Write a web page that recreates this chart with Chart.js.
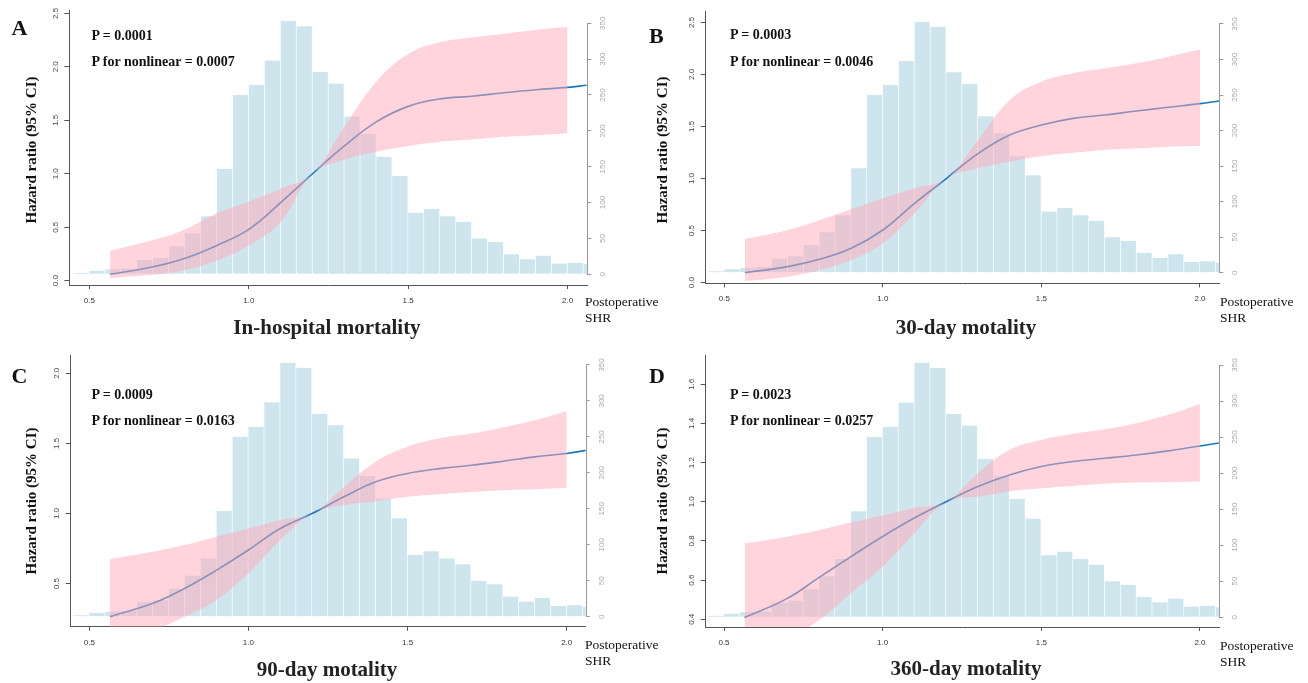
<!DOCTYPE html>
<html>
<head>
<meta charset="utf-8">
<title>Postoperative SHR and mortality</title>
<script src="https://cdn.jsdelivr.net/npm/chart.js@4.4.1/dist/chart.umd.min.js"></script>
<style>
  html, body { margin: 0; padding: 0; background: #fff; }
  body { position: relative; width: 1308px; height: 683px; overflow: hidden; }
  canvas { position: absolute; }
  .txt { position: absolute; white-space: nowrap; line-height: 1; font-family: "Liberation Serif", "Times New Roman", serif; color: #111; }
  .letter { font-size: 22px; font-weight: bold; transform: translateY(-50%); }
  .pval { font-size: 14px; font-weight: bold; transform: translateY(-50%); }
  .ytitle { font-size: 15px; font-weight: bold; transform: translate(-50%, -50%) rotate(-90deg); }
  .title { font-size: 21px; font-weight: bold; color: #222; transform: translate(-50%, -50%); }
  .xname { font-size: 13.5px; transform: translateY(-50%); }
</style>
</head>
<body>
<canvas id="chartA" width="654" height="341" style="left:0px;top:0px"></canvas>
<canvas id="chartB" width="654" height="341" style="left:654px;top:0px"></canvas>
<canvas id="chartC" width="654" height="342" style="left:0px;top:341px"></canvas>
<canvas id="chartD" width="654" height="342" style="left:654px;top:341px"></canvas>

<div class="txt letter" style="left:11.5px;top:27.5px">A</div>
<div class="txt letter" style="left:649px;top:35.5px">B</div>
<div class="txt letter" style="left:11.5px;top:375.5px">C</div>
<div class="txt letter" style="left:649px;top:375.5px">D</div>

<div class="txt pval" style="left:91.5px;top:36px">P = 0.0001</div>
<div class="txt pval" style="left:91.5px;top:62px">P for nonlinear = 0.0007</div>
<div class="txt pval" style="left:730px;top:35px">P = 0.0003</div>
<div class="txt pval" style="left:730px;top:62px">P for nonlinear = 0.0046</div>
<div class="txt pval" style="left:91.5px;top:395px">P = 0.0009</div>
<div class="txt pval" style="left:91.5px;top:421px">P for nonlinear = 0.0163</div>
<div class="txt pval" style="left:730px;top:395px">P = 0.0023</div>
<div class="txt pval" style="left:730px;top:421px">P for nonlinear = 0.0257</div>

<div class="txt ytitle" style="left:31px;top:150px">Hazard ratio (95% CI)</div>
<div class="txt ytitle" style="left:662px;top:150px">Hazard ratio (95% CI)</div>
<div class="txt ytitle" style="left:31px;top:501px">Hazard ratio (95% CI)</div>
<div class="txt ytitle" style="left:662px;top:501px">Hazard ratio (95% CI)</div>

<div class="txt title" style="left:327px;top:327px">In-hospital mortality</div>
<div class="txt title" style="left:966px;top:327px">30-day motality</div>
<div class="txt title" style="left:327px;top:669px">90-day motality</div>
<div class="txt title" style="left:966px;top:668px">360-day motality</div>

<div class="txt xname" style="left:585px;top:302px">Postoperative</div>
<div class="txt xname" style="left:585px;top:318px">SHR</div>
<div class="txt xname" style="left:1220px;top:302px">Postoperative</div>
<div class="txt xname" style="left:1220px;top:318px">SHR</div>
<div class="txt xname" style="left:585px;top:645px">Postoperative</div>
<div class="txt xname" style="left:585px;top:661px">SHR</div>
<div class="txt xname" style="left:1220px;top:646px">Postoperative</div>
<div class="txt xname" style="left:1220px;top:662px">SHR</div>

<script>
"use strict";

// tick labels
const xTicks = [0.5, 1.0, 1.5, 2.0];
const countTicks = [0, 50, 100, 150, 200, 250, 300, 350];
const hrTicksA = [0.0, 0.5, 1.0, 1.5, 2.0, 2.5];
const hrTicksB = [0.0, 0.5, 1.0, 1.5, 2.0, 2.5];
const hrTicksC = [0.5, 1.0, 1.5, 2.0];
const hrTicksD = [0.4, 0.6, 0.8, 1.0, 1.2, 1.4, 1.6];

// histogram of postoperative SHR (bin width 0.05, same cohort in every panel)
const binMids = [0.475, 0.525, 0.575, 0.625, 0.675, 0.725, 0.775, 0.825, 0.875, 0.925, 0.975,
  1.025, 1.075, 1.125, 1.175, 1.225, 1.275, 1.325, 1.375, 1.425, 1.475,
  1.525, 1.575, 1.625, 1.675, 1.725, 1.775, 1.825, 1.875, 1.925, 1.975, 2.025, 2.075];
const binCounts = [2, 5, 7, 8, 20, 23, 39, 57, 81, 147, 250,
  264, 298, 353, 346, 282, 266, 220, 196, 164, 137,
  86, 91, 81, 73, 50, 45, 28, 21, 26, 15, 16, 14];

// spline x values (curve runs a bit past the CI band)
const curveX = [0.565, 0.7, 0.8, 0.9, 1.0, 1.1, 1.2, 1.3, 1.4, 1.5, 1.6, 1.7, 1.8, 1.9, 2.0, 2.06];
const ciX = [0.565, 0.7, 0.8, 0.9, 1.0, 1.1, 1.2, 1.3, 1.4, 1.5, 1.6, 1.7, 1.8, 1.9, 2.0];

// A: in-hospital mortality
const hrA = [0.06, 0.13, 0.21, 0.33, 0.48, 0.73, 1.0, 1.26, 1.485, 1.63, 1.70, 1.725, 1.757, 1.785, 1.808, 1.827];
const upperA = [0.28, 0.38, 0.48, 0.63, 0.74, 0.86, 1.0, 1.44, 1.86, 2.12, 2.23, 2.275, 2.31, 2.345, 2.375];
const lowerA = [0.025, 0.055, 0.10, 0.19, 0.33, 0.55, 1.0, 1.13, 1.205, 1.26, 1.30, 1.32, 1.345, 1.36, 1.378];

// B: 30-day
const hrB = [0.096, 0.154, 0.224, 0.33, 0.506, 0.762, 1.0, 1.24, 1.418, 1.514, 1.578, 1.61, 1.649, 1.684, 1.719, 1.745];
const upperB = [0.419, 0.506, 0.60, 0.704, 0.81, 0.906, 1.0, 1.37, 1.754, 1.93, 2.01, 2.058, 2.106, 2.17, 2.24];
const lowerB = [0.016, 0.058, 0.122, 0.218, 0.378, 0.666, 1.0, 1.098, 1.162, 1.216, 1.248, 1.274, 1.29, 1.306, 1.316];

// C: 90-day
const hrC = [0.265, 0.36, 0.467, 0.597, 0.74, 0.893, 1.0, 1.119, 1.226, 1.286, 1.32, 1.344, 1.373, 1.404, 1.428, 1.45];
const upperC = [0.676, 0.728, 0.776, 0.835, 0.893, 0.952, 1.0, 1.19, 1.37, 1.476, 1.536, 1.57, 1.614, 1.665, 1.729];
const lowerC = [0.10, 0.17, 0.265, 0.384, 0.574, 0.81, 1.0, 1.06, 1.088, 1.12, 1.138, 1.154, 1.166, 1.173, 1.183];

// D: 360-day
const hrD = [0.409, 0.507, 0.614, 0.72, 0.823, 0.917, 1.0, 1.078, 1.137, 1.18, 1.206, 1.222, 1.239, 1.26, 1.285, 1.30];
const upperD = [0.788, 0.822, 0.856, 0.894, 0.93, 0.968, 1.0, 1.146, 1.266, 1.316, 1.347, 1.37, 1.401, 1.444, 1.50];
const lowerD = [0.22, 0.30, 0.397, 0.533, 0.669, 0.84, 1.0, 1.027, 1.053, 1.069, 1.081, 1.092, 1.098, 1.101, 1.104];

const SANS = "'Liberation Sans', Arial, sans-serif";
const BAR_COLOR = "#cee5ed";
const BAND_COLOR = "rgba(255, 170, 186, 0.5)";
const LINE_COLOR = "#1f77bb";

function toPoints(xs, ys) {
  return xs.map((x, i) => ({ x: x, y: ys[i] }));
}

function tickSetter(values) {
  return (scale) => {
    scale.ticks = values.map((v) => ({ value: v }));
  };
}

// R draws the count axis only between its first and last tick
const countAxisLine = {
  id: "countAxisLine",
  afterDraw(chart) {
    const s = chart.scales.y2;
    const ctx = chart.ctx;
    const x = Math.round(s.left) + 0.5;
    ctx.save();
    ctx.strokeStyle = "#9a9a9a";
    ctx.lineWidth = 1;
    ctx.beginPath();
    ctx.moveTo(x, s.getPixelForValue(countTicks[0]));
    ctx.lineTo(x, s.getPixelForValue(countTicks[countTicks.length - 1]));
    ctx.stroke();
    ctx.restore();
  },
};

function makePanel(canvasId, p) {
  const ctx = document.getElementById(canvasId);
  return new Chart(ctx, {
    type: "bar",
    data: {
      datasets: [
        {
          type: "line",
          data: toPoints(ciX, p.upper),
          yAxisID: "y",
          borderWidth: 0,
          pointRadius: 0,
          fill: "+1",
          backgroundColor: BAND_COLOR,
          tension: 0.4,
          order: 1,
        },
        {
          type: "line",
          data: toPoints(ciX, p.lower),
          yAxisID: "y",
          borderWidth: 0,
          pointRadius: 0,
          fill: false,
          tension: 0.4,
          order: 1,
        },
        {
          type: "line",
          data: toPoints(curveX, p.hr),
          yAxisID: "y",
          borderColor: LINE_COLOR,
          borderWidth: 1.6,
          pointRadius: 0,
          fill: false,
          tension: 0.4,
          order: 2,
        },
        {
          type: "bar",
          data: toPoints(binMids, binCounts),
          yAxisID: "y2",
          backgroundColor: BAR_COLOR,
          borderColor: "#ffffff",
          borderWidth: { top: 0, left: 0, bottom: 0, right: 1 },
          barPercentage: 1,
          categoryPercentage: 1,
          order: 3,
        },
      ],
    },
    options: {
      responsive: false,
      animation: false,
      events: [],
      layout: { autoPadding: false, padding: p.pad },
      plugins: { legend: { display: false }, tooltip: { enabled: false } },
      scales: {
        x: {
          type: "linear",
          min: p.xRange[0],
          max: p.xRange[1],
          offset: false,
          afterBuildTicks: tickSetter(xTicks),
          afterFit: (s) => { s.height = 30; s.paddingLeft = 0; s.paddingRight = 0; },
          ticks: {
            autoSkip: false,
            maxRotation: 0,
            padding: 7,
            color: "#333",
            font: { family: SANS, size: 8 },
            callback: (v) => Number(v).toFixed(1),
          },
          grid: { offset: false, drawOnChartArea: false, tickLength: 4, tickColor: "#555" },
          border: { color: "#555", width: 1 },
        },
        y: {
          type: "linear",
          position: "left",
          min: p.hrRange[0],
          max: p.hrRange[1],
          afterBuildTicks: tickSetter(p.hrTicks),
          afterFit: (s) => { s.width = 30; s.paddingTop = 0; s.paddingBottom = 0; },
          ticks: {
            autoSkip: false,
            minRotation: 90,
            maxRotation: 90,
            crossAlign: "center",
            padding: 3,
            color: "#444",
            font: { family: SANS, size: 8 },
            callback: (v) => Number(v).toFixed(1),
          },
          grid: { drawOnChartArea: false, tickLength: 5, tickColor: "#555" },
          border: { color: "#555", width: 1 },
        },
        y2: {
          type: "linear",
          position: "right",
          min: p.countRange[0],
          max: p.countRange[1],
          afterBuildTicks: tickSetter(countTicks),
          afterFit: (s) => { s.width = 30; s.paddingTop = 0; s.paddingBottom = 0; },
          ticks: {
            autoSkip: false,
            minRotation: 90,
            maxRotation: 90,
            crossAlign: "center",
            padding: 5,
            color: "#aaa",
            font: { family: SANS, size: 8 },
            callback: (v) => String(v),
          },
          grid: { drawOnChartArea: false, tickLength: 4, tickColor: "#9a9a9a" },
          border: { display: false },
        },
      },
    },
    plugins: [countAxisLine],
  });
}

makePanel("chartA", {
  hr: hrA, upper: upperA, lower: lowerA, hrTicks: hrTicksA,
  xRange: [0.437, 2.062], hrRange: [-0.04, 2.531], countRange: [-14.9, 368.5],
  pad: { left: 39.3, right: 36.7, top: 10, bottom: 26 },
});

makePanel("chartB", {
  hr: hrB, upper: upperB, lower: lowerB, hrTicks: hrTicksB,
  xRange: [0.4413, 2.0609], hrRange: [-0.006, 2.602], countRange: [-14.9, 367.3],
  pad: { left: 21.7, right: 58.7, top: 11.7, bottom: 27.7 },
});

makePanel("chartC", {
  hr: hrC, upper: upperC, lower: lowerC, hrTicks: hrTicksC,
  xRange: [0.4416, 2.0597], hrRange: [0.1934, 2.130], countRange: [-13.9, 363.8],
  pad: { left: 40.7, right: 38.3, top: 14, bottom: 26.3 },
});

makePanel("chartD", {
  hr: hrD, upper: upperD, lower: lowerD, hrTicks: hrTicksD,
  xRange: [0.4423, 2.061], hrRange: [0.3607, 1.7496], countRange: [-13.5, 363.9],
  pad: { left: 21.7, right: 58.7, top: 14, bottom: 26 },
});
</script>
</body>
</html>
